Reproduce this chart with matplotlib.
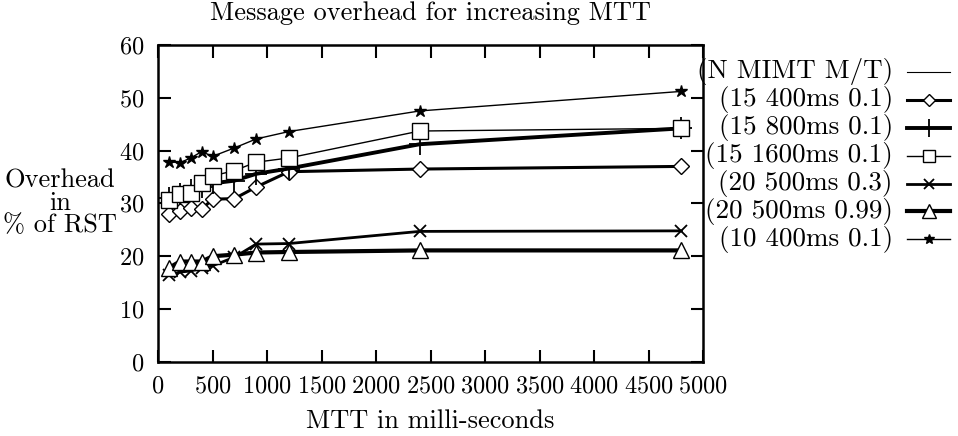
import matplotlib
matplotlib.use("Agg")
import matplotlib.pyplot as plt
from matplotlib.lines import Line2D

plt.rcParams['font.family'] = ['cmr10', 'DejaVu Serif']
plt.rcParams['axes.formatter.use_mathtext'] = True
plt.rcParams['mathtext.fontset'] = 'cm'

# MTT values (ms)
mtt = [100, 200, 300, 400, 500, 700, 900, 1200, 2400, 4800]

# overhead in % of RST, one list per configuration
d15_400 = [28.0, 28.6, 29.2, 28.9, 30.8, 30.9, 33.1, 36.0, 36.5, 37.0]
d15_800 = [31.0, 31.8, 32.6, 33.1, 33.8, 34.3, 35.6, 36.6, 41.2, 44.2]
d15_1600 = [30.6, 31.8, 32.0, 33.8, 35.2, 36.2, 37.8, 38.6, 43.7, 44.2]
d20_03 = [16.5, 17.0, 17.2, 17.8, 18.2, 19.8, 22.3, 22.4, 24.7, 24.8]
d20_099 = [17.8, 19.0, 19.0, 19.0, 20.0, 20.3, 20.7, 20.8, 21.1, 21.1]
d10_400 = [37.9, 37.7, 38.6, 39.8, 38.9, 40.5, 42.2, 43.6, 47.5, 51.2]

labels = ['(15 400ms 0.1)', '(15 800ms 0.1)', '(15 1600ms 0.1)',
          '(20 500ms 0.3)', '(20 500ms 0.99)', '(10 400ms 0.1)']
series = [d15_400, d15_800, d15_1600, d20_03, d20_099, d10_400]
styles = [
    dict(marker='D', ms=8, mfc='white', lw=2.2),
    dict(marker='+', ms=16, mew=1.3, lw=2.8),
    dict(marker='s', ms=11, mfc='white', lw=1.0),
    dict(marker='x', ms=9, mew=1.3, lw=2.0),
    dict(marker='^', ms=12, mfc='white', lw=3.0),
    dict(marker='*', ms=9, lw=1.0),
]

fig = plt.figure(figsize=(9.58, 4.36), dpi=100)
ax = fig.add_axes([0.165, 0.170, 0.569, 0.727])

for y, st in zip(series, styles):
    ax.plot(mtt, y, color='black', mec='black', **st)

ax.set_xlim(0, 5000)
ax.set_ylim(0, 60)
ax.set_xticks(range(0, 5001, 500))
ax.set_yticks(range(0, 61, 10))
ax.tick_params(direction='in', length=9, width=1.5, top=True, right=True,
               labelsize=17.5, pad=10)
for s in ax.spines.values():
    s.set_linewidth(1.8)

fig.text(0.449, 0.971, 'Message overhead for increasing MTT', fontsize=19,
         ha='center', va='center')
ax.set_xlabel('MTT in milli-seconds', fontsize=19)
ax.xaxis.set_label_coords(0.5, -0.15)
fig.text(0.063, 0.534, 'Overhead\nin\n% of RST', fontsize=19,
         ha='center', va='center', linespacing=0.92)

# legend outside on the right, text right-aligned with sample after it
x_txt, x0, x1 = 0.932, 0.947, 0.992
y_top, dy = 0.835, 0.064
fs_leg = 19.5
fig.text(x_txt, y_top, '(N MIMT M/T)', fontsize=fs_leg, ha='right', va='center')
fig.add_artist(Line2D([x0, x1], [y_top, y_top], color='black', lw=0.8,
                      transform=fig.transFigure))
for i, (lab, st) in enumerate(zip(labels, styles)):
    yy = y_top - dy * (i + 1)
    fig.text(x_txt, yy, lab, fontsize=fs_leg, ha='right', va='center')
    fig.add_artist(Line2D([x0, x1], [yy, yy], color='black', lw=st['lw'],
                          transform=fig.transFigure))
    st2 = {k: v for k, v in st.items() if k != 'lw'}
    st2['ms'] = st['ms'] * 0.8
    fig.add_artist(Line2D([(x0 + x1) / 2], [yy], color='black', mec='black',
                          linestyle='none', transform=fig.transFigure, **st2))

fig.savefig('out.png', dpi=100)
